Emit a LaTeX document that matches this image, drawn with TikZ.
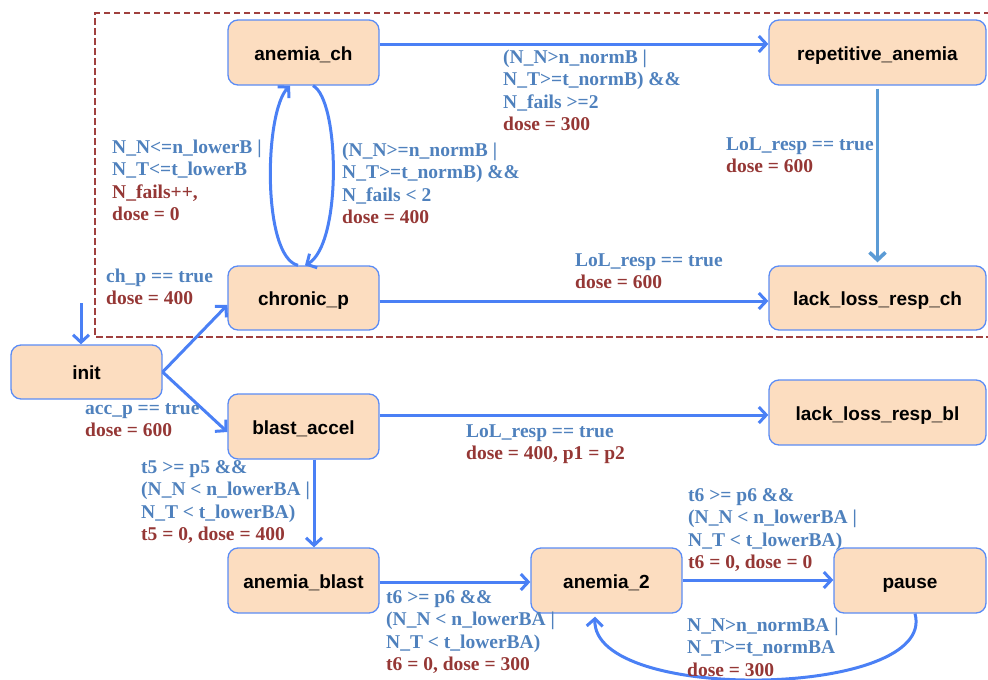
\documentclass[tikz,border=0pt]{standalone}
\usepackage{fontspec}
\setmainfont{Liberation Serif}
\newfontfamily\nodefont{Liberation Sans}
\usetikzlibrary{arrows.meta}
\definecolor{nodefill}{HTML}{FCDDC0}
\definecolor{nodeborder}{HTML}{5B8CF5}
\definecolor{arrblue}{HTML}{4A80F5}
\definecolor{arrsteel}{HTML}{5B9BD5}
\definecolor{labblue}{HTML}{4F81BD}
\definecolor{labred}{HTML}{953735}
\definecolor{boxred}{HTML}{A0403E}
\tikzset{
  state/.style={draw=nodeborder, fill=nodefill, line width=1.3pt, rounded corners=10pt,
    font=\nodefont\bfseries\fontsize{19}{22}\selectfont, inner sep=0pt,
    text height=15pt, text depth=0pt},
  arr/.style={draw=arrblue, line width=3pt, -{Straight Barb[length=7.5pt,width=16pt,line width=3pt]}},
  arrs/.style={draw=arrsteel, line width=3.6pt, -{Straight Barb[length=7.5pt,width=16pt,line width=3.6pt]}},
  lab/.style={anchor=base west, inner sep=0pt, align=left,
    font=\bfseries\fontsize{19.5}{22.5}\selectfont, text=labblue},
}
\newcommand{\rd}[1]{\textcolor{labred}{#1}}
\begin{document}
\begin{tikzpicture}[x=1pt,y=-1pt]
\useasboundingbox (0,0) rectangle (988,680);
% dashed group
\draw[boxred, line width=2.2pt, dash pattern=on 6.5pt off 3.5pt] (1000,13) -- (95,13) -- (95,337) -- (1000,337);
% nodes
\node[state, minimum width=151pt, minimum height=65pt] (ach) at (303.5,52.5) {anemia\_ch};
\node[state, minimum width=151pt, minimum height=64pt] (chp) at (303.5,298) {chronic\_p};
\node[state, minimum width=217pt, minimum height=65pt] (rep) at (877.5,52.5) {repetitive\_anemia};
\node[state, minimum width=217pt, minimum height=64pt] (llch) at (877.5,298) {lack\_loss\_resp\_ch};
\node[state, minimum width=151pt, minimum height=54pt] (init) at (86.5,372) {init};
\node[state, minimum width=151pt, minimum height=65pt] (ba) at (303.5,426.5) {blast\_accel};
\node[state, minimum width=217pt, minimum height=65pt] (llbl) at (877.5,412.5) {lack\_loss\_resp\_bl};
\node[state, minimum width=151pt, minimum height=65pt] (ab) at (303.5,580.5) {anemia\_blast};
\node[state, minimum width=151pt, minimum height=65pt] (a2) at (606.5,580.5) {anemia\_2};
\node[state, minimum width=152pt, minimum height=65pt] (pause) at (910,580.5) {pause};
\coordinate (start) at (81,303);
% edges
\draw[arr] ([yshift=8.5pt]ach.east) -- ([yshift=8.5pt]rep.west);
\draw[arr] ([xshift=-5.5pt]chp.north) .. controls (262,257) and (264,112) .. ([xshift=-13.5pt]ach.south);
\draw[arr] ([xshift=9.5pt]ach.south) .. controls (340,100) and (342,245) .. ([xshift=1.5pt]chp.north);
\draw[arrs] ([yshift=-3pt]rep.south) -- ([yshift=3pt]llch.north);
\draw[arr] ([yshift=-3pt]chp.east) -- ([yshift=-3pt]llch.west);
\draw[arr] (init.east) -- ([yshift=-7pt]chp.west);
\draw[arr] (init.east) -- ([yshift=-5.5pt]ba.west);
\draw[arr] (start) -- ([xshift=-5.5pt]init.north);
\draw[arr] ([yshift=11.5pt]ba.east) -- ([yshift=-2.5pt]llbl.west);
\draw[arr] ([xshift=10.5pt]ba.south) -- ([xshift=10.5pt]ab.north);
\draw[arr] ([yshift=-1.5pt]ab.east) -- ([yshift=-1.5pt]a2.west);
\draw[arr] ([yshift=0.5pt]a2.east) -- ([yshift=0.5pt]pause.west);
\draw[arr] ([xshift=5pt]pause.south) .. controls (938,698) and (592,704) .. ([xshift=-11.5pt,yshift=-3pt]a2.south);
% labels (anchored at baseline of last line)
\node[lab] (l1) at (503,130.5) {(N\_N>n\_normB |\\N\_T>=t\_normB) \&\&\\N\_fails >=2\\\rd{dose = 300}};
\node[lab] (l2) at (112,220.5) {N\_N<=n\_lowerB |\\N\_T<=t\_lowerB\\\rd{N\_fails++,}\\\rd{dose = 0}};
\node[lab] (l3) at (342,223.5) {(N\_N>=n\_normB |\\N\_T>=t\_normB) \&\&\\N\_fails < 2\\\rd{dose = 400}};
\node[lab] (l4) at (106,304.5) {ch\_p == true\\\rd{dose = 400}};
\node[lab] (l5) at (726,172.5) {LoL\_resp == true\\\rd{dose = 600}};
\node[lab] (l6) at (575,288.5) {LoL\_resp == true\\\rd{dose = 600}};
\node[lab] (l7) at (85,436.5) {acc\_p == true\\\rd{dose = 600}};
\node[lab] (l8) at (466,459.5) {LoL\_resp == true\\\rd{dose = 400, p1 = p2}};
\node[lab] (l9) at (141,540.5) {t5 >= p5 \&\&\\(N\_N < n\_lowerBA |\\N\_T < t\_lowerBA)\\\rd{t5 = 0, dose = 400}};
\node[lab] (l10) at (386,670.5) {t6 >= p6 \&\&\\(N\_N < n\_lowerBA |\\N\_T < t\_lowerBA)\\\rd{t6 = 0, dose = 300}};
\node[lab] (l11) at (688,568.5) {t6 >= p6 \&\&\\(N\_N < n\_lowerBA |\\N\_T < t\_lowerBA)\\\rd{t6 = 0, dose = 0}};
\node[lab] (l12) at (687,676) {N\_N>n\_normBA |\\N\_T>=t\_normBA\\\rd{dose = 300}};
\end{tikzpicture}
\end{document}
